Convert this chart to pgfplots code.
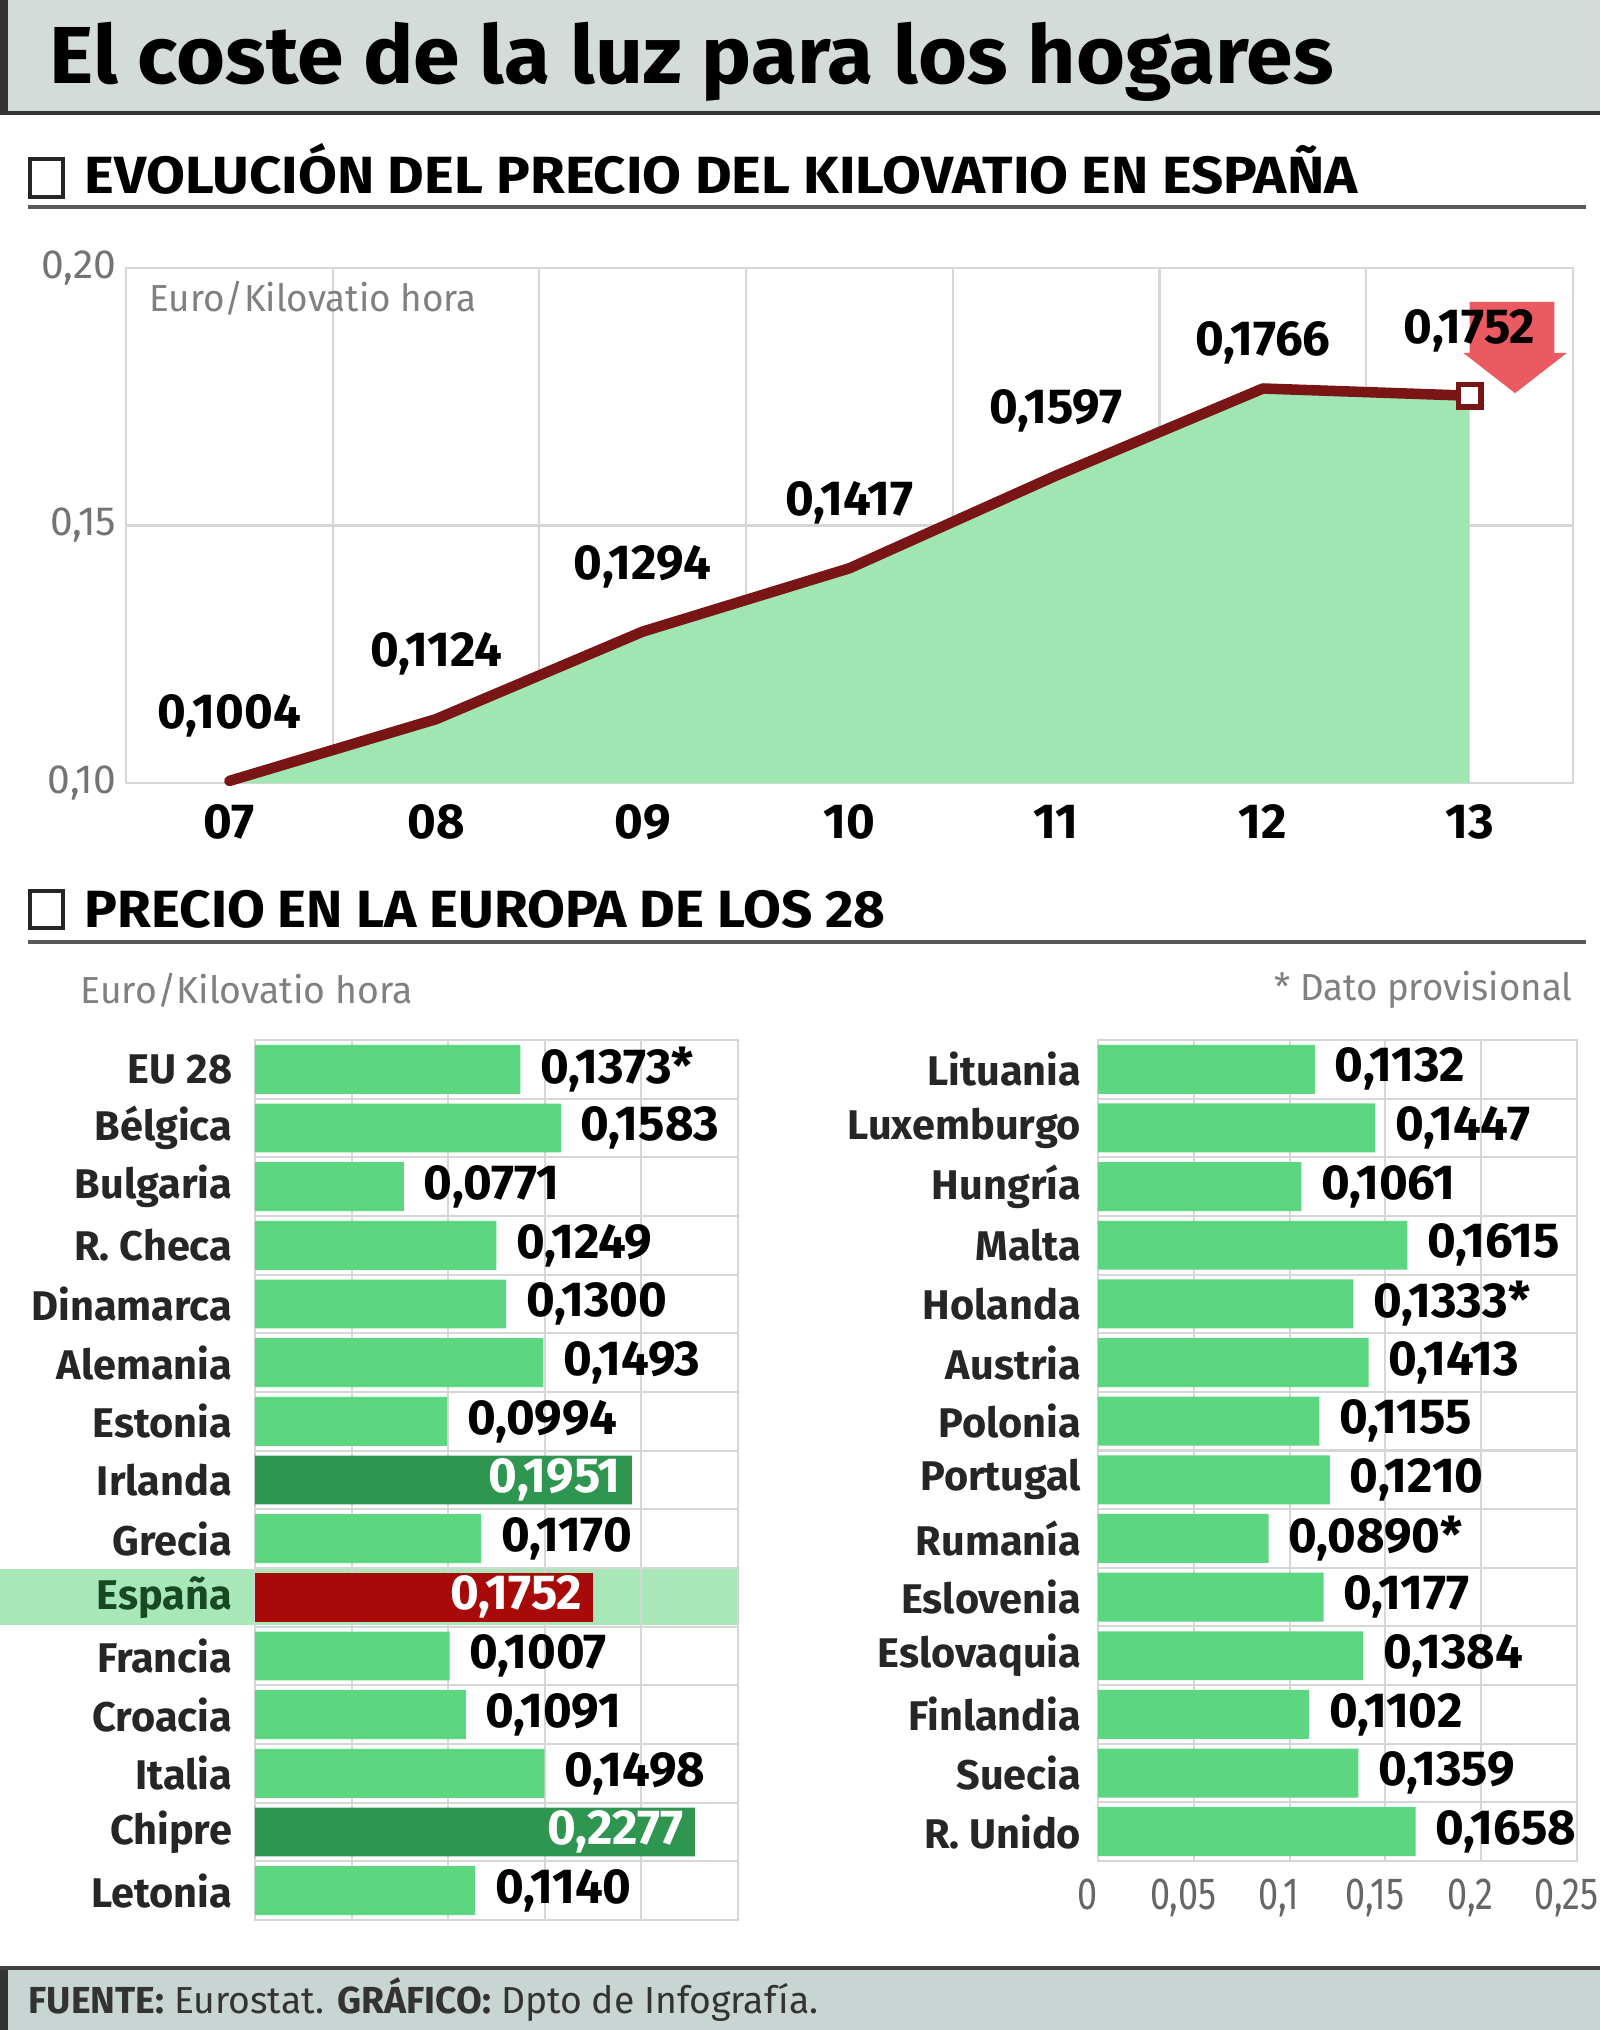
\documentclass[border=0pt]{standalone}
\usepackage{fontspec}
\setmainfont{Fira Sans}
\usepackage{graphicx}
\usepackage{pgfplots}
\pgfplotsset{compat=1.18}

\definecolor{bandgray}{HTML}{D3DCD9}
\definecolor{footgray}{HTML}{C9D5D3}
\definecolor{areagreen}{HTML}{9FE6B2}
\definecolor{linered}{HTML}{7A1515}
\definecolor{bargreen}{HTML}{5CD681}
\definecolor{darkgreen}{HTML}{2E9650}
\definecolor{spainred}{HTML}{A80A0A}
\definecolor{spainband}{HTML}{A8E8B8}
\definecolor{gridgray}{HTML}{D6D6D6}
\definecolor{arrowred}{HTML}{E8494F}
\definecolor{labgreen}{HTML}{174A22}

\newcommand\valfont{\fontsize{14}{14}\selectfont\bfseries}
\newcommand\ctryfont{\fontsize{11.8}{12}\selectfont\bfseries}
\newcommand\cond[1]{\scalebox{0.8}[1]{#1}}

% common style for the two bar panels
\pgfplotsset{
  barpanel/.style={
    scale only axis, xmin=0, xmax=0.25,
    xtick={0,0.05,0.1,0.15,0.2,0.25}, xmajorgrids,
    yminorgrids,
    major tick length=0, minor tick length=0,
    axis line style={gridgray, line width=0.6pt},
    grid style={gridgray, line width=0.6pt},
    minor grid style={gridgray, line width=0.6pt},
    yticklabel style={font=\ctryfont, text=black!85, anchor=east, inner sep=0pt},
  },
  lightbar/.style={xbar, bar width=0.835, fill=bargreen, draw=none,
    nodes near coords, point meta=explicit symbolic,
    every node near coord/.append style={font=\valfont, text=black, anchor=west, inner sep=0pt, xshift=5.5pt}},
  darkbar/.style={xbar, bar width=0.835, fill=#1, draw=none,
    nodes near coords, point meta=explicit symbolic,
    every node near coord/.append style={font=\valfont, text=white, anchor=east, inner sep=0pt, xshift=-3pt}},
}

\begin{document}
\begin{tikzpicture}[x=0.1mm, y=0.1mm]
\useasboundingbox (0,0) rectangle (1600,2030);
\fill[white] (0,0) rectangle (1600,2030);

% title band
\fill[bandgray] (0,1916) rectangle (1600,2030);
\fill[black!80] (0,1916) rectangle (8,2030);
\draw[black!80, line width=1.1pt] (0,1917) -- (1600,1917);
\node[anchor=base west, inner sep=0pt] at (49,1946)
  {\resizebox{128.4mm}{\height}{\fontsize{23}{23}\selectfont\bfseries El coste de la luz para los hogares}};

% section 1 header
\draw[black!85, line width=1.1pt] (30,1833) rectangle (63,1871);
\node[anchor=base west, inner sep=0pt] at (84,1836)
  {\resizebox{127.3mm}{\height}{\fontsize{14.9}{15}\selectfont\bfseries EVOLUCIÓN DEL PRECIO DEL KILOVATIO EN ESPAÑA}};
\draw[black!65, line width=0.9pt] (28,1823) -- (1586,1823);

% evolution chart
\begin{axis}[
  at={(12.6mm,124.7mm)}, anchor=south west,
  scale only axis, width=144.7mm, height=51.5mm,
  xmin=-0.5, xmax=6.5, ymin=0.1, ymax=0.2,
  xtick={0,...,6}, xticklabels={07,08,09,10,11,12,13},
  minor xtick={-0.5,0.5,...,6.5}, xminorgrids,
  ytick={0.1,0.15,0.2}, yticklabels={{0,10},{0,15},{0,20}},
  ymajorgrids,
  major tick length=0, minor tick length=0,
  axis line style={gridgray, line width=0.6pt},
  grid style={gridgray, line width=0.6pt},
  minor grid style={gridgray, line width=0.6pt},
  xticklabel style={font=\valfont, anchor=base, yshift=-15.9pt},
  yticklabel style={font=\fontsize{11.6}{12}\selectfont, text=black!55, anchor=east, inner sep=0pt, xshift=-2.6pt},
  clip=false,
]
\addplot[fill=areagreen, draw=none] coordinates {
  (0,0.1) (0,0.1004) (1,0.1124) (2,0.1294) (3,0.1417) (4,0.1597) (5,0.1766) (6,0.1752) (6,0.1)
};
\addplot[linered, line width=3pt, mark=none, line join=round, line cap=round] coordinates {
  (0,0.1004) (1,0.1124) (2,0.1294) (3,0.1417) (4,0.1597) (5,0.1766) (6,0.1752)
};
\fill[arrowred, opacity=0.9] (axis cs:6.0,0.1934) -- (axis cs:6.41,0.1934) -- (axis cs:6.41,0.1835)
  -- (axis cs:6.47,0.1835) -- (axis cs:6.22,0.1757) -- (axis cs:5.97,0.1835) -- (axis cs:6.0,0.1835) -- cycle;
\addplot[only marks, mark=square*, mark size=3.2pt, mark options={fill=white, draw=linered, line width=1.6pt, rounded corners=1.5pt}]
  coordinates {(6,0.1752)};
\addplot[draw=none, mark=none, nodes near coords, point meta=explicit symbolic,
  every node near coord/.append style={font=\valfont, anchor=center, yshift=18.5pt}] coordinates {
  (0,0.1004) [0,1004]
  (1,0.1124) [0,1124]
  (2,0.1294) [0,1294]
  (3,0.1417) [0,1417]
  (4,0.1597) [0,1597]
  (6,0.1752) [0,1752]
};
\addplot[draw=none, mark=none, nodes near coords, point meta=explicit symbolic,
  every node near coord/.append style={font=\valfont, anchor=center, yshift=13pt}] coordinates {
  (5,0.1766) [0,1766]
};
\end{axis}
\node[anchor=west, inner sep=0pt, text=black!50] at (149,1732)
  {\resizebox{32.7mm}{\height}{\fontsize{10.7}{11}\selectfont Euro/Kilovatio hora}};

% section 2 header
\draw[black!85, line width=1.1pt] (30,1102) rectangle (63,1139);
\node[anchor=base west, inner sep=0pt] at (84,1102)
  {\resizebox{80.1mm}{\height}{\fontsize{14.9}{15}\selectfont\bfseries PRECIO EN LA EUROPA DE LOS 28}};
\draw[black!65, line width=0.9pt] (28,1088) -- (1586,1088);

\node[anchor=west, inner sep=0pt, text=black!50] at (80,1040)
  {\resizebox{33.2mm}{\height}{\fontsize{10.7}{11}\selectfont Euro/Kilovatio hora}};
\node[anchor=east, inner sep=0pt, text=black!50] at (1573,1040)
  {\resizebox{29.8mm}{\height}{\fontsize{10.7}{11}\selectfont * Dato provisional}};

% highlight band for Spain
\fill[spainband] (0,405) rectangle (738,461);

% left bar panel
\begin{axis}[
  barpanel,
  at={(25.5mm,11mm)}, anchor=south west,
  width=48.3mm, height=88mm,
  ymin=-0.5, ymax=14.5,
  ytick={0,...,14},
  minor ytick={-0.5,0.5,...,14.5},
  yticklabels={Letonia,Chipre,Italia,Croacia,Francia,\textcolor{labgreen}{España},Grecia,Irlanda,Estonia,Alemania,Dinamarca,{R. Checa},Bulgaria,Bélgica,{EU 28}},
  yticklabel style={xshift=-6.3pt},
  xticklabels={},
]
\addplot[lightbar] coordinates {
  (0.1140,0) [0,1140]
  (0.1498,2) [0,1498]
  (0.1091,3) [0,1091]
  (0.1007,4) [0,1007]
  (0.1170,6) [0,1170]
  (0.0994,8) [0,0994]
  (0.1493,9) [0,1493]
  (0.1300,10) [0,1300]
  (0.1249,11) [0,1249]
  (0.0771,12) [0,0771]
  (0.1583,13) [0,1583]
  (0.1373,14) [0,1373*]
};
\addplot[darkbar=darkgreen] coordinates {
  (0.2277,1) [0,2277]
  (0.1951,7) [0,1951]
};
\addplot[darkbar=spainred] coordinates {
  (0.1752,5) [0,1752]
};
\end{axis}

% right bar panel
\begin{axis}[
  barpanel,
  at={(109.8mm,16.9mm)}, anchor=south west,
  width=47.9mm, height=82.1mm,
  ymin=-0.5, ymax=13.5,
  ytick={0,...,13},
  minor ytick={-0.5,0.5,...,13.5},
  yticklabels={{R. Unido},Suecia,Finlandia,Eslovaquia,Eslovenia,Rumanía,Portugal,Polonia,Austria,Holanda,Malta,Hungría,Luxemburgo,Lituania},
  yticklabel style={xshift=-4.6pt},
  xticklabels={\cond{0},\cond{0,05},\cond{0,1},\cond{0,15},\cond{0,2},\cond{0,25}},
  xticklabel style={font=\fontsize{12.8}{13}\selectfont, text=black!60, anchor=base, yshift=-13.9pt, xshift=-3pt},
]
\addplot[lightbar] coordinates {
  (0.1658,0) [0,1658]
  (0.1359,1) [0,1359]
  (0.1102,2) [0,1102]
  (0.1384,3) [0,1384]
  (0.1177,4) [0,1177]
  (0.0890,5) [0,0890*]
  (0.1210,6) [0,1210]
  (0.1155,7) [0,1155]
  (0.1413,8) [0,1413]
  (0.1333,9) [0,1333*]
  (0.1615,10) [0,1615]
  (0.1061,11) [0,1061]
  (0.1447,12) [0,1447]
  (0.1132,13) [0,1132]
};
\end{axis}

% footer
\fill[footgray] (0,0) rectangle (1600,62);
\fill[black!80] (0,0) rectangle (8,62);
\draw[black!75, line width=1.3pt] (0,62) -- (1600,62);
\node[anchor=west, inner sep=0pt, text=black!80] at (28,30)
  {\resizebox{79mm}{\height}{\fontsize{10.7}{11}\selectfont\textbf{FUENTE:} Eurostat. \textbf{GRÁFICO:} Dpto de Infografía.}};
\end{tikzpicture}
\end{document}
